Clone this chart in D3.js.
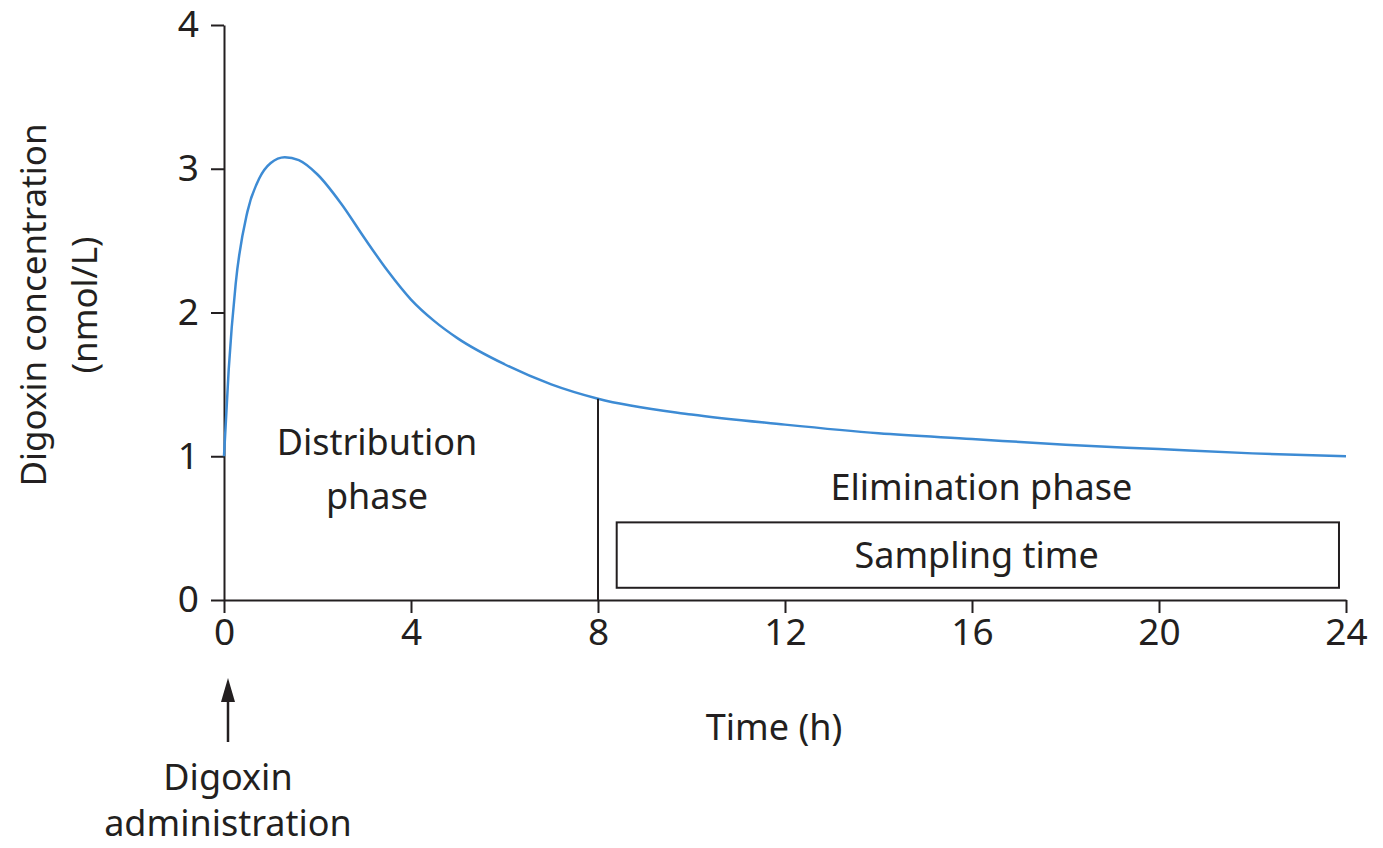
<!DOCTYPE html>
<html><head><meta charset="utf-8">
<script src="https://cdn.jsdelivr.net/npm/d3@7"></script>
<style>body{margin:0;background:#fff}text{font-family:"Noto Sans",sans-serif;fill:#231f20}</style>
</head><body><svg id="chart" width="1383" height="848"></svg>
<script>
// data
const times = [0, 0.1, 0.25, 0.5, 0.75, 1, 1.3, 1.6, 2, 2.5, 3, 3.5, 4, 4.5, 5, 6, 7, 8, 10, 12, 14, 16, 18, 20, 22, 24];
const conc  = [1.0, 1.6, 2.2, 2.7, 2.93, 3.04, 3.08, 3.06, 2.96, 2.76, 2.52, 2.29, 2.09, 1.94, 1.82, 1.64, 1.5, 1.4, 1.29, 1.22, 1.16, 1.12, 1.08, 1.05, 1.02, 1.0];
const xTicks = [0, 4, 8, 12, 16, 20, 24];
const yTicks = [0, 1, 2, 3, 4];
const phaseSplit = 8;
const sampling = [8.4, 23.85];

const svg = d3.select("#chart");
const x = d3.scaleLinear().domain([0, 24]).range([224, 1346]);
const y = d3.scaleLinear().domain([0, 4]).range([600, 25]);

const xAxis = svg.append("g").attr("transform", "translate(0,600)")
  .call(d3.axisBottom(x).tickValues(xTicks).tickFormat(d3.format("d")).tickSize(13).tickPadding(6).tickSizeOuter(0));
const yAxis = svg.append("g").attr("transform", "translate(224,0)")
  .call(d3.axisLeft(y).tickValues(yTicks).tickFormat(d3.format("d")).tickSize(13).tickPadding(12).tickSizeOuter(0));
[xAxis, yAxis].forEach(a => {
  a.selectAll("path,line").attr("stroke", "#231f20").attr("stroke-width", 2);
  a.selectAll("text").attr("font-size", 37).attr("fill", "#231f20");
});

// curve
const pts = times.map((t, i) => [t, conc[i]]);
svg.append("path").datum(pts)
  .attr("d", d3.line().x(d => x(d[0])).y(d => y(d[1])).curve(d3.curveMonotoneX))
  .attr("fill", "none").attr("stroke", "#3d8bd4").attr("stroke-width", 2.5);

// phase divider
svg.append("line").attr("x1", x(phaseSplit)).attr("x2", x(phaseSplit))
  .attr("y1", y(0)).attr("y2", y(1.4)).attr("stroke", "#231f20").attr("stroke-width", 2);

// sampling box
svg.append("rect").attr("x", x(sampling[0])).attr("y", y(0.54))
  .attr("width", x(sampling[1]) - x(sampling[0])).attr("height", y(0.085) - y(0.54))
  .attr("fill", "none").attr("stroke", "#231f20").attr("stroke-width", 2);

function label(t, px, py, size, anchor) {
  svg.append("text").attr("x", px).attr("y", py).attr("font-size", size)
    .attr("text-anchor", anchor || "middle").text(t);
}
label("Sampling time", x(16.1), 568, 36);
label("Elimination phase", x(16.2), 500, 36);
label("Distribution", 377, 455, 36);
label("phase", 377, 509, 36);
label("Time (h)", 774, 740, 36);
label("Digoxin", 228, 790, 36);
label("administration", 228, 836, 36);

svg.append("text").attr("transform", "translate(46,305) rotate(-90)")
  .attr("font-size", 35).attr("text-anchor", "middle").text("Digoxin concentration");
svg.append("text").attr("transform", "translate(97,305) rotate(-90)")
  .attr("font-size", 35).attr("text-anchor", "middle").text("(nmol/L)");

// arrow
svg.append("line").attr("x1", 228).attr("x2", 228).attr("y1", 700).attr("y2", 742)
  .attr("stroke", "#231f20").attr("stroke-width", 2.5);
svg.append("path").attr("d", "M228,678 L221,702 L235,702 Z").attr("fill", "#231f20");
</script></body></html>
